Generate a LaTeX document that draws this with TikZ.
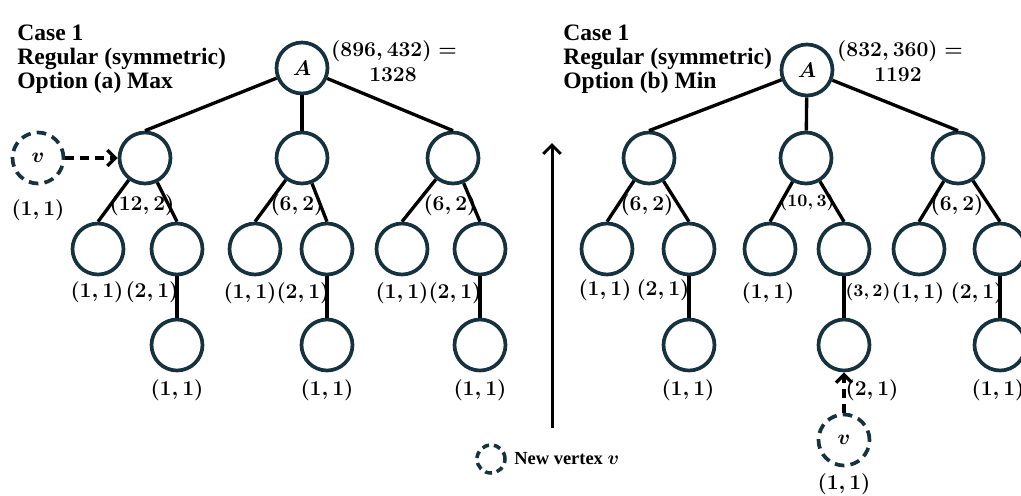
\documentclass[tikz,border=0pt]{standalone}
\usepackage{amsmath,amssymb}
\usepackage{fontspec}
\setmainfont{Liberation Serif}
\usepackage{tikz}
\usetikzlibrary{positioning,arrows.meta,calc}
\usepackage{xcolor}
\definecolor{vtxline}{HTML}{17323F}

\begin{document}
\begin{tikzpicture}[
  x=0.02cm, y=-0.02cm,
  every node/.style={font=\fontsize{11.5}{13}\selectfont\boldmath},
  vtx/.style={circle,draw=vtxline,line width=2.1pt,minimum size=1.02cm,inner sep=0pt,font=\fontsize{13}{15}\selectfont\boldmath},
  newvtx/.style={vtx,dash pattern=on 5.5pt off 3.5pt},
  tree edge/.style={draw,line width=1.9pt},
  new edge/.style={draw,line width=1.9pt,dash pattern=on 5pt off 3.5pt,-{Straight Barb[length=4.5pt,width=9pt,line width=1.9pt]}},
  title/.style={anchor=base west,inner sep=0pt,font=\fontsize{13.4}{15}\selectfont\bfseries},
  small lbl/.style={font=\fontsize{10.3}{12}\selectfont\boldmath}
]
  \useasboundingbox (0,0) rectangle (1021,495);

  % left tree: option (a) max
  \node[title] (ta1) at (17,40) {Case 1};
  \node[title] (ta2) at (17,64) {Regular (symmetric)};
  \node[title] (ta3) at (17,88) {Option (a) Max};

  \node[vtx] (aA) at (302,68) {$A$};
  \node (aAval) at (394,51) {$(896, 432) =$};
  \node (aAsum) at (393,75) {$1328$};

  \node[vtx] (a1) at (145,158) {};
  \node[vtx] (a2) at (302,158) {};
  \node[vtx] (a3) at (453,158) {};

  \node[vtx] (a11) at (98,249) {};
  \node[vtx] (a12) at (177,249) {};
  \node[vtx] (a21) at (255,249) {};
  \node[vtx] (a22) at (327,249) {};
  \node[vtx] (a31) at (402,249) {};
  \node[vtx] (a32) at (480,249) {};

  \node[vtx] (a121) at (177,345) {};
  \node[vtx] (a221) at (327,345) {};
  \node[vtx] (a321) at (480,345) {};

  \node[newvtx] (av) at (38,158) {$v$};
  \node (avval) at (38,210) {$(1, 1)$};

  \draw[tree edge] (aA)--(a1.north);
  \draw[tree edge] (aA)--(a2);
  \draw[tree edge] (aA)--(a3.north);
  \draw[tree edge] (a1)--(a11.north);
  \draw[tree edge] (a1)--(a12.north);
  \draw[tree edge] (a2)--(a21.north);
  \draw[tree edge] (a2)--(a22.north);
  \draw[tree edge] (a3)--(a31.north);
  \draw[tree edge] (a3)--(a32.north);
  \draw[tree edge] (a12)--(a121);
  \draw[tree edge] (a22)--(a221);
  \draw[tree edge] (a32)--(a321);
  \draw[new edge] (av)--(a1);

  \node (a1val) at (142,205) {$(12, 2)$};
  \node (a2val) at (297,205) {$(6, 2)$};
  \node (a3val) at (450,205) {$(6, 2)$};
  \node (a11val) at (97,292) {$(1, 1)$};
  \node (a12val) at (152,292) {$(2, 1)$};
  \node (a21val) at (250,293) {$(1, 1)$};
  \node (a22val) at (303,293) {$(2, 1)$};
  \node (a31val) at (402,293) {$(1, 1)$};
  \node (a32val) at (455,293) {$(2, 1)$};
  \node (a121val) at (177,390) {$(1, 1)$};
  \node (a221val) at (327,390) {$(1, 1)$};
  \node (a321val) at (480,390) {$(1, 1)$};

  % middle: direction arrow and legend
  \coordinate (upfrom) at (552,428);
  \coordinate (upto) at (552,143);
  \draw[line width=1.7pt,-{Straight Barb[length=5pt,width=10pt,line width=1.7pt]}] (upfrom)--(upto);
  \node[circle,draw=vtxline,line width=2pt,dash pattern=on 4pt off 2.8pt,minimum size=0.56cm,inner sep=0pt] (legv) at (491,459) {};
  \node[anchor=west,inner sep=0pt,font=\fontsize{10.5}{12}\selectfont\bfseries\boldmath] (legtxt) at (514,459) {New vertex $v$};

  % right tree: option (b) min
  \node[title] (tb1) at (563,40) {Case 1};
  \node[title] (tb2) at (563,64) {Regular (symmetric)};
  \node[title] (tb3) at (563,88) {Option (b) Min};

  \node[vtx] (bA) at (807,70) {$A$};
  \node (bAval) at (900,51) {$(832, 360) =$};
  \node (bAsum) at (898,75) {$1192$};

  \node[vtx] (b1) at (649,158) {};
  \node[vtx] (b2) at (806,158) {};
  \node[vtx] (b3) at (958,158) {};

  \node[vtx] (b11) at (607,249) {};
  \node[vtx] (b12) at (689,249) {};
  \node[vtx] (b21) at (770,249) {};
  \node[vtx] (b22) at (844,249) {};
  \node[vtx] (b31) at (919,249) {};
  \node[vtx] (b32) at (1000,249) {};

  \node[vtx] (b121) at (689,345) {};
  \node[vtx] (b221) at (844,345) {};
  \node[vtx] (b321) at (1000,345) {};

  \node[newvtx] (bv) at (844,440) {$v$};
  \node (bvval) at (844,484) {$(1, 1)$};

  \draw[tree edge] (bA)--(b1.north);
  \draw[tree edge] (bA)--(b2);
  \draw[tree edge] (bA)--(b3.north);
  \draw[tree edge] (b1)--(b11.north);
  \draw[tree edge] (b1)--(b12.north);
  \draw[tree edge] (b2)--(b21.north);
  \draw[tree edge] (b2)--(b22.north);
  \draw[tree edge] (b3)--(b31.north);
  \draw[tree edge] (b3)--(b32.north);
  \draw[tree edge] (b12)--(b121);
  \draw[tree edge] (b22)--(b221);
  \draw[tree edge] (b32)--(b321);
  \draw[new edge] (bv)--(b221);

  \node (b1val) at (647,205) {$(6, 2)$};
  \node[small lbl] (b2val) at (807,202) {$(10, 3)$};
  \node (b3val) at (957,205) {$(6, 2)$};
  \node (b11val) at (605,290) {$(1, 1)$};
  \node (b12val) at (663,290) {$(2, 1)$};
  \node (b21val) at (768,293) {$(1, 1)$};
  \node[small lbl] (b22val) at (868,292) {$(3, 2)$};
  \node (b31val) at (918,293) {$(1, 1)$};
  \node (b32val) at (977,293) {$(2, 1)$};
  \node (b121val) at (688,390) {$(1, 1)$};
  \node (b221val) at (872,390) {$(2, 1)$};
  \node (b321val) at (998,390) {$(1, 1)$};
\end{tikzpicture}
\end{document}
